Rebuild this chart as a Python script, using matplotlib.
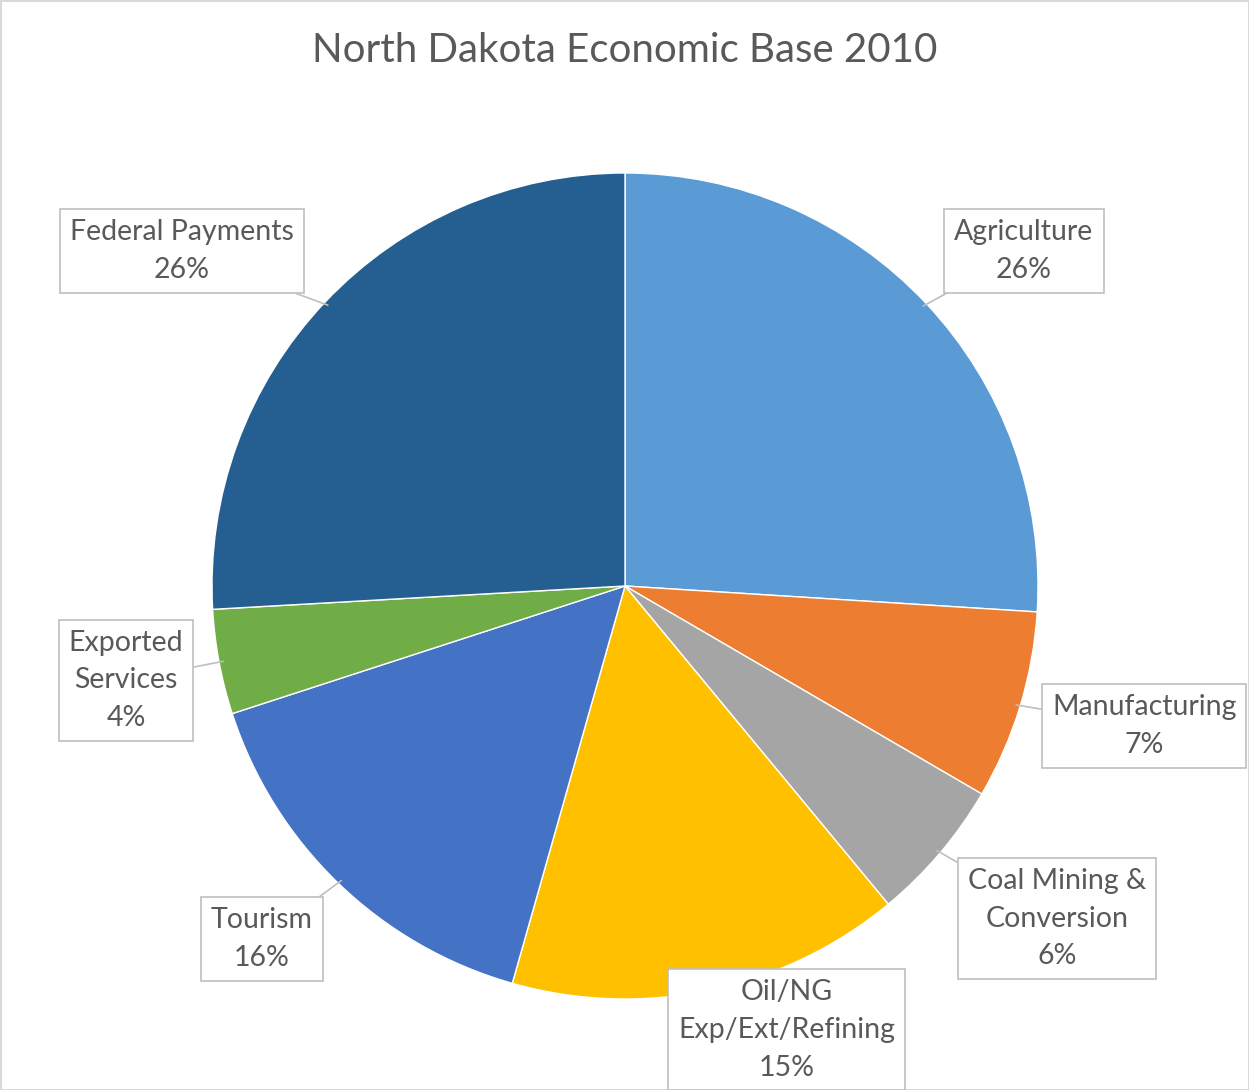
import numpy as np
import matplotlib.pyplot as plt

plt.rcParams['font.family'] = ['Lato', 'DejaVu Sans']

# Slice data, clockwise from 12 o'clock
labels = ['Agriculture', 'Manufacturing', 'Coal Mining &\nConversion',
          'Oil/NG\nExp/Ext/Refining', 'Tourism', 'Exported\nServices',
          'Federal Payments']
shares = [26.0, 7.4, 5.6, 15.4, 15.6, 4.1, 25.9]
pct_text = ['26%', '7%', '6%', '15%', '16%', '4%', '26%']
colors = ['#5B9BD5', '#ED7D31', '#A5A5A5', '#FFC000', '#4472C4', '#70AD47', '#255E91']

# Callout box centres (in pie radius units)
box_pos = [(0.966, 0.811), (1.257, -0.339), (1.046, -0.806), (0.392, -1.075),
           (-0.879, -0.855), (-1.208, -0.228), (-1.073, 0.811)]

W, H = 1249, 1090
fig = plt.figure(figsize=(W / 100, H / 100), dpi=100,
                 edgecolor='#D9D9D9', linewidth=2)

# Pie centred at (625, 586) px with radius 413 px
cx, cy, r = 625, 586, 413
ax = fig.add_axes([(cx - r) / W, 1 - (cy + r) / H, 2 * r / W, 2 * r / H])
wedges, _ = ax.pie(shares, colors=colors, startangle=90, counterclock=False,
                   radius=1, wedgeprops=dict(edgecolor='white', linewidth=1))
ax.set_xlim(-1, 1)
ax.set_ylim(-1, 1)
ax.set_aspect('equal')
ax.axis('off')

# Callouts pointing to the middle of each wedge's arc
for w, lab, pct, pos in zip(wedges, labels, pct_text, box_pos):
    mid = np.deg2rad((w.theta1 + w.theta2) / 2)
    tip = (np.cos(mid) * 0.99, np.sin(mid) * 0.99)
    ax.annotate(lab + '\n' + pct, xy=tip, xytext=pos,
                ha='center', va='center', fontsize=20.5, color='#595959',
                linespacing=1.55, annotation_clip=False,
                bbox=dict(boxstyle='square,pad=0.35', fc='white',
                          ec='#BFBFBF', lw=1.2),
                arrowprops=dict(arrowstyle='-', color='#BFBFBF', lw=1.2,
                                shrinkA=0, shrinkB=0))

fig.text(0.5, 1 - 51 / H, 'North Dakota Economic Base 2010',
         ha='center', va='center', fontsize=29, color='#595959')

fig.savefig('out.png', dpi=100, edgecolor=fig.get_edgecolor())
